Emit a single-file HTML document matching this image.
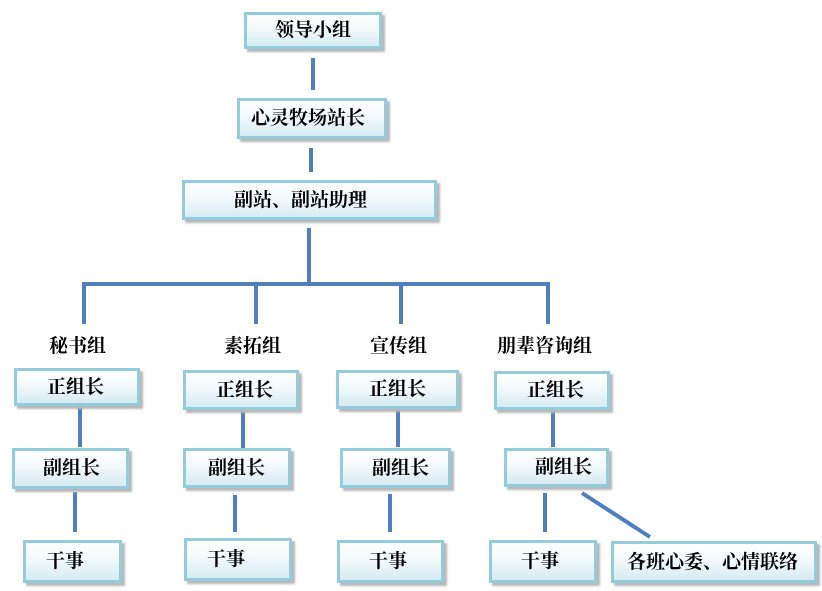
<!DOCTYPE html>
<html><head><meta charset="utf-8"><style>
html,body{margin:0;padding:0;background:#fff;}
body{width:822px;height:591px;position:relative;overflow:hidden;font-family:"Liberation Serif","Noto Serif CJK SC","Noto Sans CJK SC",serif;}
.b{position:absolute;box-sizing:border-box;border:3px solid #93cddd;background:linear-gradient(#ffffff 0%,#f2f9fb 45%,#d6ecf3 100%);box-shadow:3px 3px 2px #b8b8b8;display:flex;align-items:center;justify-content:flex-start;font-size:19px;font-weight:bold;color:#000;white-space:nowrap;line-height:1;}
.l{position:absolute;font-size:19px;font-weight:bold;color:#000;white-space:nowrap;}
svg{position:absolute;left:0;top:0;}
</style></head><body>
<svg width="822" height="591"><g stroke="#4f7fbf" stroke-width="4" fill="none">
<line x1="313" y1="58" x2="313" y2="90"/>
<line x1="311" y1="148" x2="311" y2="172"/>
<line x1="309" y1="228" x2="309" y2="286"/>
<polyline points="84,324 84,284 548,284 548,324"/>
<line x1="256" y1="286" x2="256" y2="324"/>
<line x1="401" y1="286" x2="401" y2="324"/>
<line x1="80" y1="407" x2="80" y2="447"/>
<line x1="75" y1="492" x2="75" y2="532"/>
<line x1="243" y1="411" x2="243" y2="448"/>
<line x1="235" y1="495" x2="235" y2="532"/>
<line x1="398" y1="410" x2="398" y2="447"/>
<line x1="390" y1="494" x2="390" y2="532"/>
<line x1="553" y1="411" x2="553" y2="447"/>
<line x1="545" y1="493" x2="545" y2="532"/>
<line x1="582" y1="493" x2="650" y2="537"/>
</g></svg>
<div class="b" style="left:244px;top:12px;width:138px;height:37px;padding-left:28px;">领导小组</div>
<div class="b" style="left:237px;top:98px;width:150px;height:41px;padding-left:11px;">心灵牧场站长</div>
<div class="b" style="left:182px;top:180px;width:255px;height:40px;padding-left:49px;">副站、副站助理</div>
<div class="l" style="left:49px;top:331px;">秘书组</div>
<div class="l" style="left:224px;top:331px;">素拓组</div>
<div class="l" style="left:370px;top:331px;">宣传组</div>
<div class="l" style="left:497px;top:331px;">朋辈咨询组</div>
<div class="b" style="left:14px;top:368px;width:126px;height:38px;padding-left:30px;">正组长</div>
<div class="b" style="left:12px;top:448px;width:117px;height:41px;padding-left:28px;">副组长</div>
<div class="b" style="left:23px;top:540px;width:99px;height:43px;padding-left:20px;">干事</div>
<div class="b" style="left:183px;top:370px;width:116px;height:40px;padding-left:30px;">正组长</div>
<div class="b" style="left:183px;top:448px;width:108px;height:40px;padding-left:22px;">副组长</div>
<div class="b" style="left:184px;top:538px;width:108px;height:43px;padding-left:20px;">干事</div>
<div class="b" style="left:336px;top:370px;width:123px;height:39px;padding-left:30px;">正组长</div>
<div class="b" style="left:340px;top:448px;width:111px;height:40px;padding-left:29px;">副组长</div>
<div class="b" style="left:337px;top:540px;width:107px;height:43px;padding-left:29px;">干事</div>
<div class="b" style="left:494px;top:371px;width:116px;height:39px;padding-left:30px;">正组长</div>
<div class="b" style="left:504px;top:448px;width:105px;height:39px;padding-left:28px;">副组长</div>
<div class="b" style="left:489px;top:540px;width:108px;height:43px;padding-left:29px;">干事</div>
<div class="b" style="left:611px;top:541px;width:206px;height:42px;padding-left:13px;">各班心委、心情联络</div>
</body></html>
